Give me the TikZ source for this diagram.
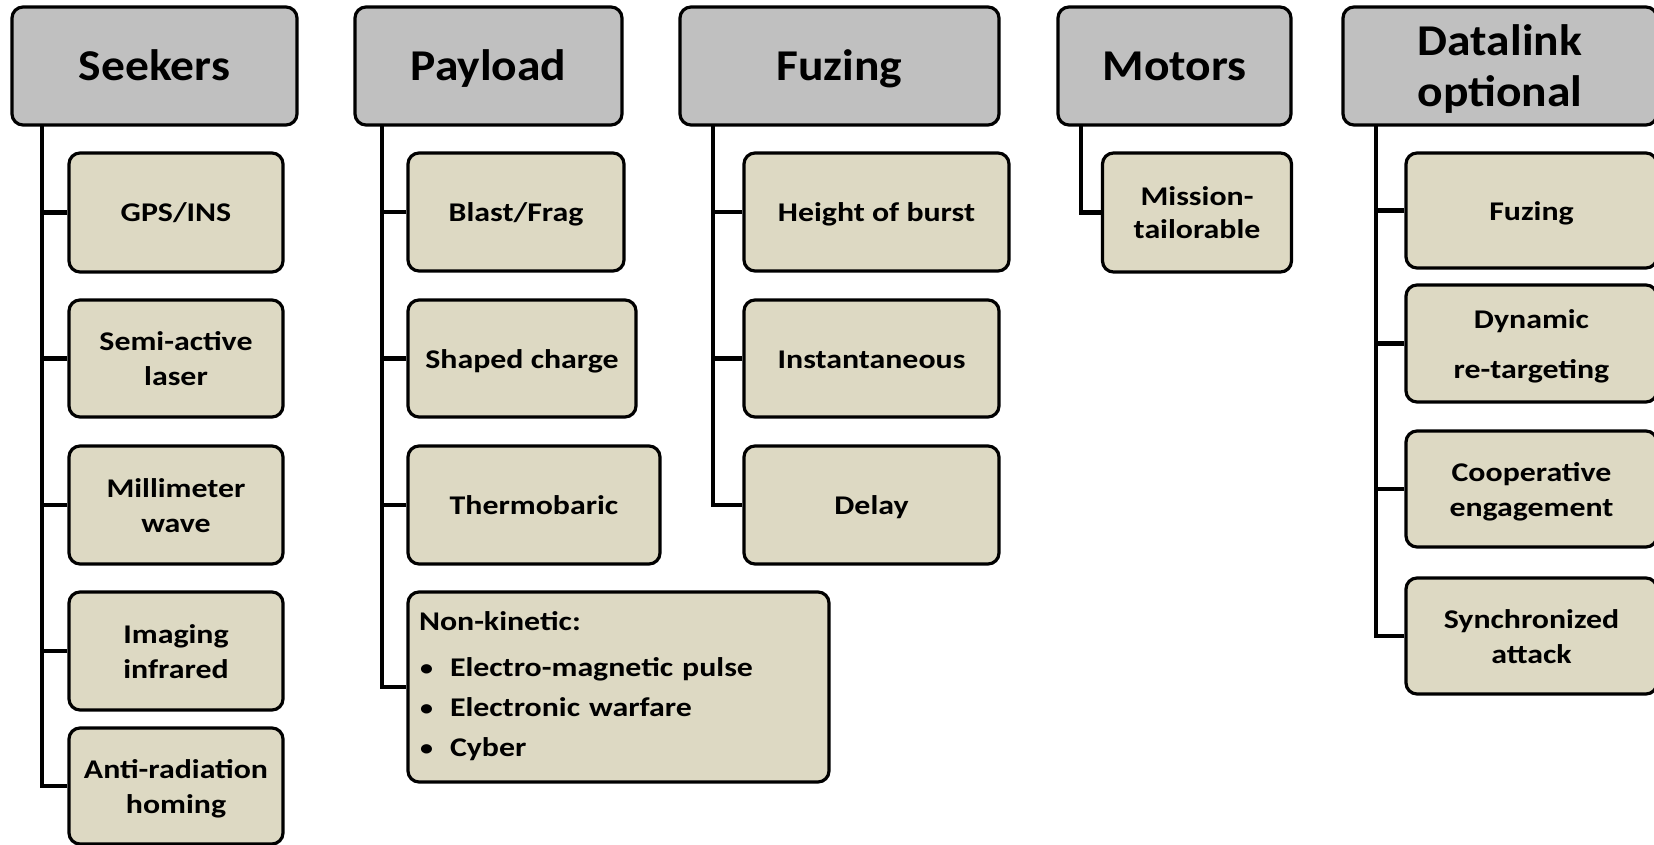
\documentclass[tikz,border=0pt]{standalone}
\usepackage{fontspec}
\setmainfont{Carlito}
\newfontfamily\hdrfont[FakeStretch=1.08]{Carlito}
\newfontfamily\itemfont[FakeStretch=1.18]{Carlito}
\newcommand{\hT}{\rule{0pt}{42pt}}
\newcommand{\hB}{\rule[-12pt]{0pt}{12pt}}
\newcommand{\iT}{\rule{0pt}{27pt}}
\newcommand{\iB}{\rule[-8pt]{0pt}{8pt}}
\begin{document}
\begin{tikzpicture}[x=1pt,y=-1pt,
  hdr/.style={draw=black, line width=3.2pt, rounded corners=11pt, fill=hdrgray,
    inner sep=0pt, align=center, font=\hdrfont\bfseries\fontsize{44}{51}\selectfont},
  itembox/.style={draw=black, line width=3.2pt, rounded corners=11pt, fill=itemtan,
    inner sep=0pt, align=center, font=\itemfont\bfseries\fontsize{27}{35}\selectfont},
  conn/.style={draw=black, line width=4.5pt}]
\definecolor{hdrgray}{HTML}{C0C0C0}
\definecolor{itemtan}{HTML}{DDD9C3}
\newcommand{\bul}{\makebox[31pt][l]{\hspace{1pt}\fontsize{22}{22}\selectfont\raisebox{1pt}{•}}}
\useasboundingbox (0,0) rectangle (1654,845);
\clip (0,0) rectangle (1654,845);
\fill[white] (0,0) rectangle (1654,845);
% trunk tops
\coordinate (Sx) at (42,125);
\coordinate (Px) at (382,125);
\coordinate (Fx) at (713,125);
\coordinate (Mx) at (1081,125);
\coordinate (Dx) at (1376,125);
% headers
\node[hdr, minimum width=285pt, minimum height=118pt] (S) at (154.5,66) {\hT Seekers\hB};
\node[hdr, minimum width=267pt, minimum height=118pt] (P) at (488.5,66) {\hT Payload\hB};
\node[hdr, minimum width=319pt, minimum height=118pt] (F) at (839.5,66) {\hT Fuzing\hB};
\node[hdr, minimum width=233pt, minimum height=118pt] (M) at (1174.5,66) {\hT Motors\hB};
\node[hdr, minimum width=314pt, minimum height=118pt] (D) at (1500,66) {\hT Datalink\\optional\hB};
% Seekers children
\node[itembox, minimum width=214pt, minimum height=119pt] (s1) at (176,212.5) {\iT GPS/INS\iB};
\node[itembox, minimum width=214pt, minimum height=117pt] (s2) at (176,358.5) {\iT Semi-active\\laser\iB};
\node[itembox, minimum width=214pt, minimum height=118pt] (s3) at (176,505) {\iT Millimeter\\wave\iB};
\node[itembox, minimum width=214pt, minimum height=118pt] (s4) at (176,651) {\iT Imaging\\infrared\iB};
\node[itembox, minimum width=214pt, minimum height=116pt] (s5) at (176,786) {\iT Anti-radiation\\homing\iB};
% Payload children
\node[itembox, minimum width=216pt, minimum height=118pt] (p1) at (516,212) {\iT Blast/Frag\iB};
\node[itembox, minimum width=228pt, minimum height=117pt] (p2) at (522,358.5) {\iT Shaped charge\iB};
\node[itembox, minimum width=252pt, minimum height=118pt] (p3) at (534,505) {\iT Thermobaric\iB};
\node[itembox, minimum width=421pt, minimum height=190pt, align=left, text width=399pt,
  font=\itemfont\bfseries\fontsize{27}{40}\selectfont] (p4) at (618.5,687)
 {\rule{0pt}{28pt}Non-kinetic:\\[6pt]\bul Electro-magnetic pulse\\\bul Electronic warfare\\\bul Cyber\rule[-16pt]{0pt}{16pt}};
% Fuzing children
\node[itembox, minimum width=265pt, minimum height=118pt] (f1) at (876.5,212) {\iT Height of burst\iB};
\node[itembox, minimum width=255pt, minimum height=117pt] (f2) at (871.5,358.5) {\iT Instantaneous\iB};
\node[itembox, minimum width=255pt, minimum height=118pt] (f3) at (871.5,505) {\iT Delay\iB};
% Motors child
\node[itembox, minimum width=189pt, minimum height=119pt, font=\itemfont\bfseries\fontsize{27}{33}\selectfont] (m1) at (1197,212.5) {\iT Mission-\\tailorable\iB};
% Datalink children
\node[itembox, minimum width=251pt, minimum height=115pt] (d1) at (1531.5,210.5) {\iT Fuzing\iB};
\node[itembox, minimum width=251pt, minimum height=117pt, font=\itemfont\bfseries\fontsize{27}{50}\selectfont] (d2) at (1531.5,343.5) {\iT Dynamic\\re-targeting\iB};
\node[itembox, minimum width=251pt, minimum height=116pt] (d3) at (1531.5,489) {\iT Cooperative\\engagement\iB};
\node[itembox, minimum width=251pt, minimum height=116pt] (d4) at (1531.5,636) {\iT Synchronized\\attack\iB};
% connectors
\draw[conn] (Sx) |- (s5.west);
\draw[conn] (Px) |- (p4.west);
\draw[conn] (Fx) |- (f3.west);
\draw[conn] (Mx) |- (m1.west);
\draw[conn] (Dx) |- (d4.west);
\foreach \n in {s1,s2,s3,s4} \draw[conn] (\n.west) -- (\n.west -| Sx);
\foreach \n in {p1,p2,p3} \draw[conn] (\n.west) -- (\n.west -| Px);
\foreach \n in {f1,f2} \draw[conn] (\n.west) -- (\n.west -| Fx);
\foreach \n in {d1,d2,d3} \draw[conn] (\n.west) -- (\n.west -| Dx);
\end{tikzpicture}
\end{document}
